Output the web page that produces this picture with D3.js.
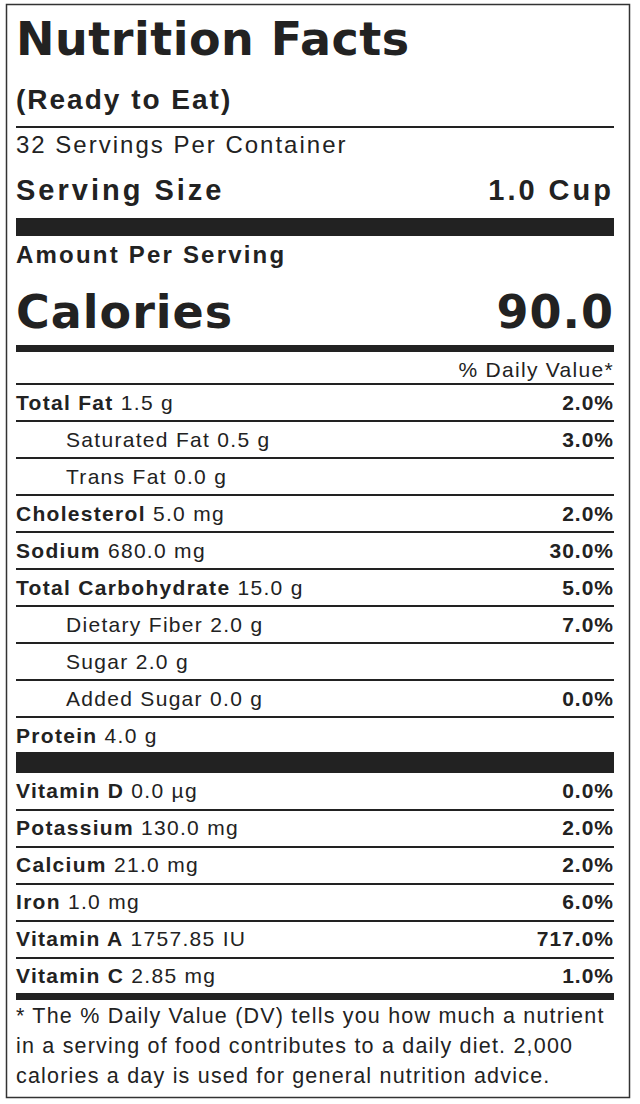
<!DOCTYPE html>
<html>
<head>
<meta charset="utf-8">
<script src="https://cdn.jsdelivr.net/npm/d3@7"></script>
<style>
  body { margin: 0; background: #fff; }
  text { font-family: "Liberation Sans", Arial, sans-serif; fill: #222; }
</style>
</head>
<body>
<svg id="label" width="640" height="1104"></svg>
<script>
// main nutrients
const names = ['Total Fat', 'Saturated Fat', 'Trans Fat', 'Cholesterol', 'Sodium',
  'Total Carbohydrate', 'Dietary Fiber', 'Sugar', 'Added Sugar', 'Protein'];
const amounts = ['1.5 g', '0.5 g', '0.0 g', '5.0 mg', '680.0 mg', '15.0 g', '2.0 g', '2.0 g', '0.0 g', '4.0 g'];
const dailyValues = ['2.0%', '3.0%', '', '2.0%', '30.0%', '5.0%', '7.0%', '', '0.0%', ''];
const subRows = [false, true, true, false, false, false, true, true, true, false];

// vitamins and minerals
const vitNames = ['Vitamin D', 'Potassium', 'Calcium', 'Iron', 'Vitamin A', 'Vitamin C'];
const vitAmounts = ['0.0 µg', '130.0 mg', '21.0 mg', '1.0 mg', '1757.85 IU', '2.85 mg'];
const vitDaily = ['0.0%', '2.0%', '2.0%', '6.0%', '717.0%', '1.0%'];

const footnote = [
  '* The % Daily Value (DV) tells you how much a nutrient',
  'in a serving of food contributes to a daily diet. 2,000',
  'calories a day is used for general nutrition advice.'
];

const svg = d3.select('#label');
const L = 16, R = 614, IND = 66;

svg.append('rect').attr('x', 6.5).attr('y', 4.5).attr('width', 623).attr('height', 1093)
  .attr('fill', 'none').attr('stroke', '#333').attr('stroke-width', 1.5);

const rule = (y, h) => svg.append('rect').attr('x', L).attr('y', y).attr('width', R - L).attr('height', h).attr('fill', '#222');
const txt = (x, y, s, size, weight, anchor) => svg.append('text').attr('x', x).attr('y', y)
  .attr('font-size', size).attr('font-weight', weight || 'normal').attr('text-anchor', anchor || 'start').text(s);

txt(L, 55, 'Nutrition Facts', 46, 900).attr('letter-spacing', 0.5).style('font-family', '"DejaVu Sans", sans-serif');
txt(L, 109, '(Ready to Eat)', 28, 'bold').attr('letter-spacing', 2);
rule(126, 2);
txt(L, 153, '32 Servings Per Container', 24).attr('letter-spacing', 2);
txt(L, 200, 'Serving Size', 29, 'bold').attr('letter-spacing', 3);
txt(R, 200, '1.0 Cup', 29, 'bold', 'end').attr('letter-spacing', 3);
rule(218, 18);
txt(L, 263, 'Amount Per Serving', 24, 'bold').attr('letter-spacing', 2.2);
txt(L, 328, 'Calories', 46, 900).attr('letter-spacing', 1).style('font-family', '"DejaVu Sans", sans-serif');
txt(R, 328, '90.0', 46, 900, 'end').attr('letter-spacing', 1).style('font-family', '"DejaVu Sans", sans-serif');
rule(345, 7);
txt(R, 377, '% Daily Value*', 21, 'normal', 'end').attr('letter-spacing', 1.3);

const y = d3.scaleLinear().domain([0, 1]).range([384, 421]);
const rows = svg.append('g').selectAll('g').data(names).join('g')
  .attr('transform', (d, i) => `translate(0,${y(i)})`);
rows.append('rect').attr('x', L).attr('y', -1).attr('width', R - L).attr('height', 2).attr('fill', '#222');
rows.append('text').attr('x', (d, i) => subRows[i] ? IND : L).attr('y', 26).attr('font-size', 21)
  .attr('letter-spacing', 1.3)
  .call(t => {
    t.append('tspan').attr('font-weight', (d, i) => subRows[i] ? 'normal' : 'bold').text(d => d);
    t.append('tspan').text((d, i) => ' ' + amounts[i]);
  });
rows.append('text').attr('x', R).attr('y', 26).attr('font-size', 21).attr('font-weight', 'bold')
  .attr('letter-spacing', 1).attr('text-anchor', 'end').text((d, i) => dailyValues[i]);

rule(752, 21);

const vy = d3.scaleLinear().domain([0, 1]).range([773, 810]);
const vrows = svg.append('g').selectAll('g').data(vitNames).join('g')
  .attr('transform', (d, i) => `translate(0,${vy(i)})`);
vrows.filter((d, i) => i > 0).append('rect').attr('x', L).attr('y', -1).attr('width', R - L).attr('height', 2).attr('fill', '#222');
vrows.append('text').attr('x', L).attr('y', 25).attr('font-size', 21).attr('letter-spacing', 1.3)
  .call(t => {
    t.append('tspan').attr('font-weight', 'bold').text(d => d);
    t.append('tspan').text((d, i) => ' ' + vitAmounts[i]);
  });
vrows.append('text').attr('x', R).attr('y', 25).attr('font-size', 21).attr('font-weight', 'bold')
  .attr('letter-spacing', 1).attr('text-anchor', 'end').text((d, i) => vitDaily[i]);

rule(993, 7);
footnote.forEach((s, i) => txt(L, 1023 + i * 30, s, 21.5).attr('letter-spacing', 1.2));
</script>
</body>
</html>
